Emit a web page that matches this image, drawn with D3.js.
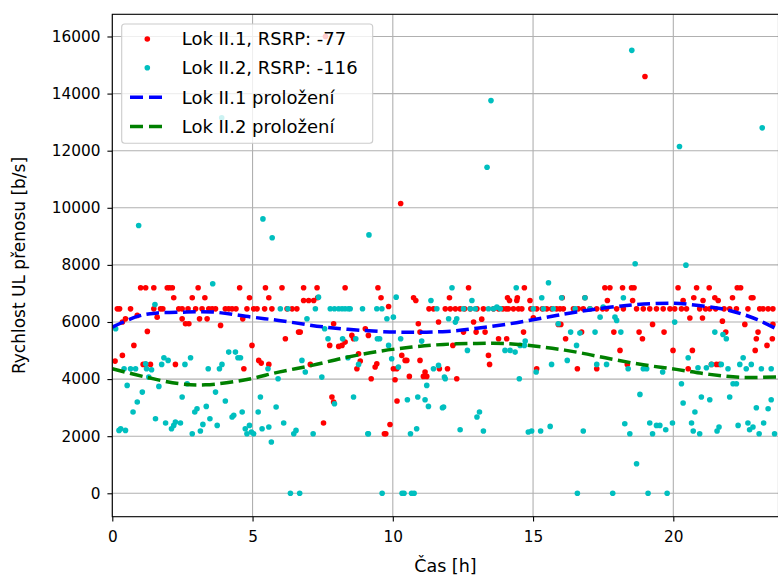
<!DOCTYPE html>
<html>
<head>
<meta charset="utf-8">
<script src="https://cdn.jsdelivr.net/npm/d3@7"></script>
<style>
  body { margin: 0; background: #fff; }
  svg { display: block; font-family: "DejaVu Sans", sans-serif; }
</style>
</head>
<body>
<div id="chart"></div>
<script>
// [cas h, rychlost b/s]
var lok1 = [
 [1.01,7200],[1.19,7200],[1.48,7200],[1.96,7200],[2.04,7200],[2.14,7200],[3.06,7200],[4.54,7200],[5.46,7200],[6.05,7200],[6.82,7200],[7.3,7200],[8.3,7200],[9.47,7200],
 [2.19,6850],[2.85,6850],[3.3,6850],[4.89,6850],[5.58,6850],[7.32,6850],[9.58,6850],[6.82,6755],[7.0,6755],[7.18,6755],[10.74,6850],[10.82,6755],
 [0.18,6460],[0.26,6460],[0.65,6460],[1.48,6460],[1.72,6460],[1.8,6460],[2.37,6460],[2.49,6460],[2.7,6460],[2.97,6460],[3.2,6460],[3.44,6460],[3.56,6460],[3.68,6460],[4.03,6460],[4.15,6460],[4.27,6460],[4.41,6460],[4.8,6460],[5.04,6460],[5.16,6460],[5.43,6460],[5.69,6460],[6.23,6460],[6.41,6460],[6.58,6460],[9.85,6540],[11.29,6460],[11.45,6460],
 [0.89,6230],[0.47,6110],[1.6,6170],[2.49,6110],[3.11,6110],[3.38,6110],[4.65,6110],
 [2.61,5940],[2.73,5940],[3.86,5880],[7.89,5940],[10.91,5940],[11.63,6000],
 [1.25,5670],[0.36,6000],[0.77,5180],[4.98,5180],[0.36,4830],[0.1,4630],[1.1,4514],[1.19,4514],[1.36,4514],[2.25,4514],[5.22,4654],[5.31,4560],[5.58,4514],[4.69,4362],
 [6.17,5413],[6.7,5646],[6.64,5646],[7.06,4514],[7.83,3370],[7.89,3195],[7.53,2460],[9.7,2087],[9.75,2087],[9.9,2410],[10.08,3977],[10.15,3230],[10.32,4830],[10.44,4654],[10.5,4654],[10.59,4094],[10.97,4654],[11.15,4246],[11.21,4094],[11.09,4094],[11.66,4362],[10.97,5646],
 [8.78,4888],[8.84,4631],[8.72,4362],[8.6,5413],[9.02,5763],[9.13,5530],[9.23,4012],[9.37,4421],[9.43,4537],[10.14,4362],[10.02,4362],[8.3,5296],[8.19,5180],[7.75,5180],[8.07,5145],[8.54,5530],
 [12.7,7200],[14.69,7200],[17.56,7200],[17.74,7200],[18.19,7200],[18.51,7200],[18.6,7200],[20.17,7200],[20.83,7200],[21.28,7200],[22.28,7200],[22.4,7200],
 [12.02,6850],[14.44,6850],[14.09,6850],[16.04,6850],[16.85,6850],[20.73,6850],[21.48,6850],[22.11,6850],[22.84,6850],[22.78,6850],
 [14.16,6755],[14.42,6755],[14.89,6755],[17.65,6755],[18.55,6755],[20.35,6755],[21.06,6755],[21.6,6755],
 [11.87,6460],[12.05,6460],[12.23,6460],[12.4,6460],[12.56,6460],[12.76,6460],[13.0,6460],[13.23,6460],[13.59,6460],[13.77,6460],[13.92,6460],[14.04,6460],[14.12,6460],[14.3,6460],[14.48,6460],[14.6,6460],[14.92,6460],[15.13,6460],[15.33,6460],[15.49,6460],[15.66,6460],[15.84,6460],[15.96,6460],[16.08,6460],[16.44,6460],[16.61,6460],[16.79,6460],[17.03,6460],[17.27,6460],[17.48,6460],[17.62,6460],[17.98,6460],[18.22,6460],[18.69,6460],[18.93,6460],[19.16,6460],[19.4,6460],[19.64,6460],[19.88,6460],[20.05,6460],[20.29,6460],[20.47,6460],[20.94,6460],[21.15,6460],[21.3,6460],[21.51,6460],[21.81,6460],[22.01,6460],[22.25,6460],[22.66,6460],[23.08,6460],[23.2,6460],[23.38,6460],[23.55,6460],
 [12.88,6000],[13.17,6100],[15.01,6150],[15.99,5915],[15.9,5915],[19.26,5915],[20.59,6140],[21.04,6140],[21.75,6030],[22.55,5915],[23.55,5915],
 [12.52,5646],[12.97,5646],[13.29,5646],[14.66,5646],[16.73,5646],[17.88,5646],[18.78,5646],[19.67,5646],[21.87,5646],[23.02,5646],
 [13.77,5413],[14.06,5413],[16.16,5413],[18.9,5413],[23.53,5413],[22.96,5413],[12.14,5180],[23.34,5180],
 [18.1,5004],[19.99,5004],[20.68,5004],[22.92,5004],[13.41,4830],[13.45,4514],[18.36,4514],[21.36,4514],[21.54,4514],[21.65,4514],
 [11.95,4362],[15.13,4362],[16.58,4362],[17.27,4362],[20.53,4362],[12.28,4012],
 [10.28,10150],[18.99,14600],[7.6,16000]
];

var lok2 = [
 [0.12,5763],[0.24,2203],[0.3,2262],[0.47,2203],[0.53,3779],[0.42,4362],[0.65,4362],[0.83,4362],[1.07,3545],[0.89,3195],[0.74,2845],[1.19,4537],[1.22,4362],[1.4,4327],[1.3,4070],[1.52,6615],[1.54,2612],[1.66,3744],[1.76,4514],[1.84,4748],[1.99,4654],[1.9,2460],[2.11,2262],[2.19,2378],[2.25,2495],[2.43,2460],[2.49,3370],[2.59,4514],[2.67,3837],[2.79,4748],[2.85,2087],[2.94,2845],[3.02,2962],[3.14,2180],[3.23,2413],[3.35,3044],[3.42,4362],[3.48,2612],[3.58,7340],[3.68,3545],[3.74,2378],[3.82,4362],[3.91,4514],[4.03,3230],[4.15,4946],[4.27,2670],[4.33,2729],[4.39,4946],[4.48,4748],[4.57,4748],[4.63,2845],[4.74,2262],[4.8,2087],[4.89,2378],[4.96,2145],[5.04,2087],[5.2,2845],[5.28,3370],[5.34,2262],[5.58,2320],[5.55,4362],[5.67,1795],[5.84,3020],[5.91,4012],[5.99,6463],[6.11,2460],[6.26,6463],[6.47,2087],[6.55,2203],[6.76,4654],[6.88,4246],[6.94,6113],[7.16,2087],[7.24,6463],[7.35,6870],[7.47,4070],[7.57,5763],[7.69,5413],[7.92,3137],[7.77,6463],[7.92,6463],[8.07,6463],[8.19,6463],[8.3,6463],[8.42,6463],[8.48,6463],[8.21,5413],[8.6,3370],[8.4,4748],[8.68,5413],[8.78,4514],[8.92,6463],[9.11,2087],[9.13,2087],[9.43,6463],[9.61,6463],[9.45,5413],[9.53,5413],[9.85,5180],[9.79,6113],[9.96,4712],[10.02,6170],[10.12,6870],[10.2,4421],[10.28,5413],[10.52,3277],[10.63,2087],[10.85,2262],[10.89,3370],[11.03,5331],[11.15,3277],[11.21,3779],[11.27,3044],[11.36,6755],[11.45,4362],[11.57,6463],[11.63,4479],[11.77,2997],[11.84,4070],
 [6.35,0],[6.68,0],[9.62,0],[10.33,0],[10.4,0],[10.67,0],[10.76,0],[16.58,0],[17.84,0],[19.1,0],[19.78,0],
 [12.11,7200],[12.66,5004],[12.82,6755],[11.99,6113],[12.23,5996],[12.28,6113],[12.52,6463],[12.76,6463],[12.94,6463],[13.41,6463],[13.59,6463],[13.71,6520],[13.83,6463],[14.0,5004],[14.18,5004],[14.36,4946],[14.4,7200],[14.51,4012],[14.72,5331],[14.69,5180],[14.54,5180],[15.01,6463],[15.11,4246],[15.31,6848],[15.37,6463],[15.55,7373],[15.66,4514],[15.72,6463],[15.9,5938],[16.02,6848],[16.22,4654],[16.34,5646],[16.5,6463],[16.55,5180],[16.67,5610],[16.85,6848],[17.03,6463],[17.21,5646],[17.27,4514],[17.39,6170],[17.5,6520],[17.62,4514],[17.92,6170],[17.98,6055],[18.13,5646],[18.22,6848],[18.39,4362],[18.27,2437],[18.45,2087],[18.81,3464],[18.69,1036],[18.93,4362],[19.05,4362],[19.16,2460],[19.26,2087],[19.4,2378],[19.52,2378],[19.62,4246],[19.73,2227],[19.97,2460],[20.05,5996],[20.29,3837],[20.35,3160],[20.53,4748],[20.65,2460],[20.71,2180],[20.77,2845],[20.88,4397],[21.0,3370],[20.94,2087],[21.18,4397],[21.3,3277],[21.36,4514],[21.48,5646],[21.56,2180],[21.63,2320],[21.71,4514],[21.77,5564],[21.89,5413],[21.95,4362],[22.01,3370],[22.13,3837],[22.25,3837],[22.31,2378],[22.37,4514],[22.49,4748],[22.6,4362],[22.66,2460],[22.72,2227],[22.78,4514],[22.84,2320],[22.96,2997],[23.06,2087],[23.14,4362],[23.22,2460],[23.38,2962],[23.49,3277],[23.49,4362],[23.61,2087],[11.81,3020],[11.87,4012],[12.4,2227],[13.0,2670],[13.09,2845],[13.23,2180],[14.83,2145],[14.95,2180],[15.27,2180],[15.61,2343],[16.79,2180],
 [18.52,15515],[20.22,12145],[23.17,12800],[13.5,13755],[13.36,11420],[3.9,13150],[0.94,9380],[5.37,9610],[5.7,8950],[9.15,9050],[18.64,8040],[20.45,7990]
];

// prolozeni
var fit1 = [[0,5820],[0.89,6195],[1.54,6310],[2.5,6345],[3.56,6350],[4.98,6170],[5.93,6055],[7.59,5820],[9.49,5670],[10.8,5640],[11.93,5670],[13,5780],[14.18,5940],[15.4,6150],[16.55,6350],[18.33,6580],[19.88,6660],[20.59,6615],[22.0,6405],[23.0,6080],[23.75,5720]];
var fit2 = [[0,4360],[1.19,4070],[2.37,3840],[3.32,3800],[4.75,3975],[5.93,4245],[7.12,4480],[8.3,4750],[9.49,4970],[10.68,5120],[11.81,5215],[13.0,5250],[13.95,5250],[15.37,5120],[16.55,4945],[17.74,4710],[18.93,4500],[20.11,4340],[21.3,4165],[22.49,4060],[23.75,4080]];

var xTicks = [0, 5, 10, 15, 20];
var yTicks = [0, 2000, 4000, 6000, 8000, 10000, 12000, 14000, 16000];
var legendLabels = ["Lok II.1, RSRP: -77", "Lok II.2, RSRP: -116", "Lok II.1 proložení", "Lok II.2 proložení"];

var W = 778, H = 576;
var m = {left: 112.3, top: 14.3, right: 778.5, bottom: 516.7};

var svg = d3.select("#chart").append("svg")
    .attr("width", W).attr("height", H);
svg.append("rect").attr("width", W).attr("height", H).attr("fill", "#fff");

var x = d3.scaleLinear().domain([0, 23.75]).range([m.left, m.right]);
var y = d3.scaleLinear().domain([-820, 16777]).range([m.bottom, m.top]);

svg.append("defs").append("clipPath").attr("id", "clip")
    .append("rect").attr("x", m.left).attr("y", m.top)
    .attr("width", m.right - m.left).attr("height", m.bottom - m.top);

// grid
var grid = svg.append("g").attr("stroke", "#b0b0b0").attr("stroke-width", 1.1);
grid.selectAll(".gx").data(xTicks).enter().append("line")
    .attr("x1", function(d){ return x(d); }).attr("x2", function(d){ return x(d); })
    .attr("y1", m.top).attr("y2", m.bottom);
grid.selectAll(".gy").data(yTicks).enter().append("line")
    .attr("x1", m.left).attr("x2", m.right)
    .attr("y1", function(d){ return y(d); }).attr("y2", function(d){ return y(d); });

var plot = svg.append("g").attr("clip-path", "url(#clip)");

plot.selectAll(".p1").data(lok1).enter().append("circle")
    .attr("cx", function(d){ return x(d[0]); })
    .attr("cy", function(d){ return y(d[1]); })
    .attr("r", 2.8).attr("fill", "#ff0000");

plot.selectAll(".p2").data(lok2).enter().append("circle")
    .attr("cx", function(d){ return x(d[0]); })
    .attr("cy", function(d){ return y(d[1]); })
    .attr("r", 2.8).attr("fill", "#00bfbf");

var line = d3.line()
    .x(function(d){ return x(d[0]); })
    .y(function(d){ return y(d[1]); })
    .curve(d3.curveCatmullRom);

plot.append("path").datum(fit1).attr("d", line)
    .attr("fill", "none").attr("stroke", "#0000ff")
    .attr("stroke-width", 3.5).attr("stroke-dasharray", "12.8,5.5");
plot.append("path").datum(fit2).attr("d", line)
    .attr("fill", "none").attr("stroke", "#008000")
    .attr("stroke-width", 3.5).attr("stroke-dasharray", "12.8,5.5");

// axes
var xAxis = svg.append("g")
    .attr("transform", "translate(0," + m.bottom + ")")
    .call(d3.axisBottom(x).tickValues(xTicks).tickSize(4.9).tickPadding(10).tickSizeOuter(0));
var yAxis = svg.append("g")
    .attr("transform", "translate(" + m.left + ",0)")
    .call(d3.axisLeft(y).tickValues(yTicks).tickSize(4.9).tickPadding(7).tickSizeOuter(0).tickFormat(d3.format("d")));

[xAxis, yAxis].forEach(function(a){
    a.select(".domain").remove();
    a.selectAll(".tick line").attr("stroke", "#000").attr("stroke-width", 1.1);
    a.selectAll(".tick text").attr("fill", "#000")
        .style("font-size", "15.3px").style("font-family", "DejaVu Sans");
});

// spines
svg.append("rect").attr("x", m.left).attr("y", m.top)
    .attr("width", m.right - m.left).attr("height", m.bottom - m.top)
    .attr("fill", "none").attr("stroke", "#000").attr("stroke-width", 1.1);

svg.append("text")
    .attr("x", (m.left + m.right) / 2).attr("y", 572)
    .attr("text-anchor", "middle").style("font-size", "17.5px")
    .text("Čas [h]");
svg.append("text")
    .attr("transform", "translate(25," + ((m.top + m.bottom) / 2) + ") rotate(-90)")
    .attr("text-anchor", "middle").style("font-size", "17px")
    .text("Rychlost UL přenosu [b/s]");

// legend
var lg = svg.append("g");
lg.append("rect").attr("x", 121.7).attr("y", 24).attr("width", 251).attr("height", 119.3)
    .attr("rx", 3).attr("fill", "#fff").attr("fill-opacity", 0.8)
    .attr("stroke", "#cccccc").attr("stroke-width", 1.1);
var rowsY = [39, 67.8, 97.2, 126.4];
lg.append("circle").attr("cx", 147.3).attr("cy", rowsY[0]).attr("r", 2.8).attr("fill", "#ff0000");
lg.append("circle").attr("cx", 147.3).attr("cy", rowsY[1]).attr("r", 2.8).attr("fill", "#00bfbf");
lg.append("line").attr("x1", 130).attr("x2", 164).attr("y1", rowsY[2]).attr("y2", rowsY[2])
    .attr("stroke", "#0000ff").attr("stroke-width", 3.5).attr("stroke-dasharray", "13,6");
lg.append("line").attr("x1", 130).attr("x2", 164).attr("y1", rowsY[3]).attr("y2", rowsY[3])
    .attr("stroke", "#008000").attr("stroke-width", 3.5).attr("stroke-dasharray", "13,6");
lg.selectAll(".lt").data(legendLabels).enter().append("text")
    .attr("x", 181.7).attr("y", function(d, i){ return rowsY[i]; })
    .attr("dy", "0.35em").style("font-size", "18px")
    .text(function(d){ return d; });
</script>
</body>
</html>
